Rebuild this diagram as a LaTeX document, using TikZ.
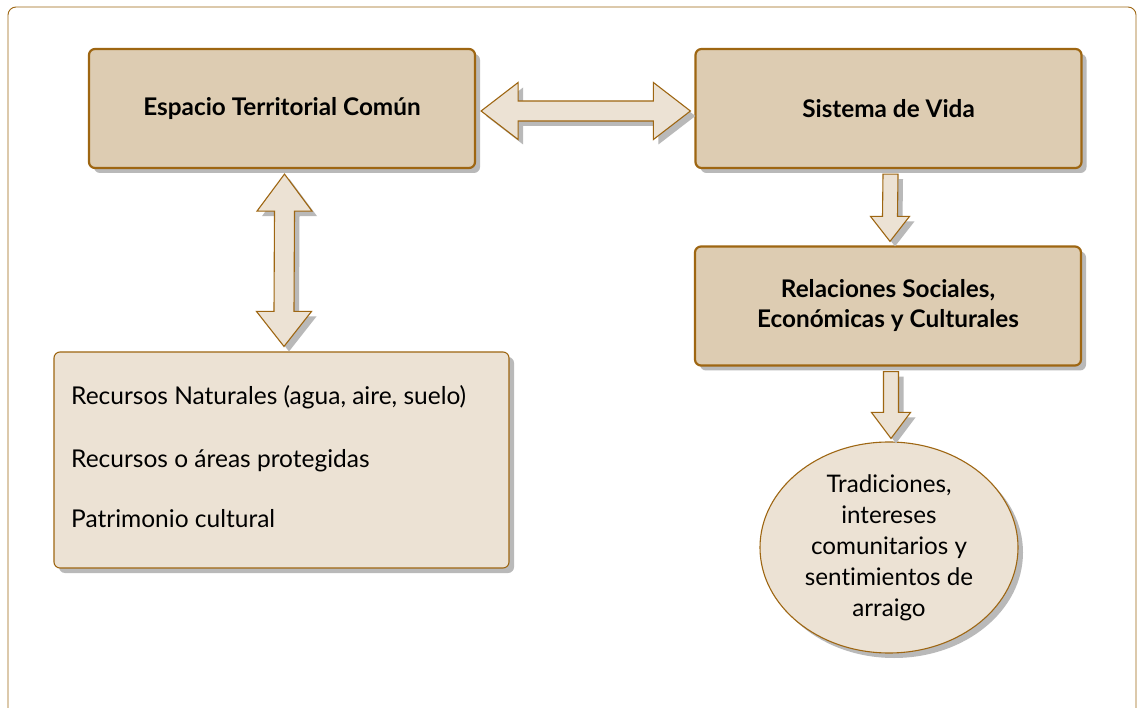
\documentclass[tikz,border=0pt]{standalone}
\usepackage{fontspec}
\setmainfont{Lato}[Ligatures=NoCommon]
\usetikzlibrary{shapes.geometric,shadows,calc}
\definecolor{brd}{RGB}{158,102,18}
\definecolor{tanfill}{RGB}{221,204,178}
\definecolor{lightfill}{RGB}{236,226,212}
\definecolor{shd}{RGB}{185,185,185}
\tikzset{
  shad/.style={drop shadow={shadow xshift=5pt,shadow yshift=-5pt,fill=shd,opacity=1}},
  mainbox/.style={rectangle,rounded corners=6pt,draw=brd,line width=2.2pt,fill=tanfill,
    minimum width=386pt,minimum height=119pt,align=center,shad,
    font=\fontsize{24.3}{30}\selectfont\bfseries},
  listbox/.style={rectangle,rounded corners=6pt,draw=brd,line width=1.1pt,fill=lightfill,
    minimum width=455pt,minimum height=216pt,shad},
  blockarrow/.style={draw=brd,line width=1.1pt,fill=lightfill,line join=miter,shad},
  itemtext/.style={anchor=base west,inner sep=0pt,font=\fontsize{24.5}{31}\selectfont},
  ovalnode/.style={ellipse,draw=brd,line width=1.1pt,fill=lightfill,minimum width=258pt,
    minimum height=211pt,align=center,inner sep=0pt,shad,font=\fontsize{24.2}{31}\selectfont}
}
\begin{document}
\begin{tikzpicture}[x=1pt,y=-1pt]
\useasboundingbox (0,0) rectangle (1138,708);
\fill[white] (0,0) rectangle (1138,708);
\draw[brd,line width=0.9pt,rounded corners=8pt] (8,7) rectangle (1136,740);

\node[mainbox] (etc) at (282,108.5) {Espacio Territorial Común};
\node[mainbox] (sv) at (888.5,108.5) {Sistema de Vida};
\node[mainbox] (rs) at (888,306) {Relaciones Sociales,\\Económicas y Culturales};
\node[listbox] (rec) at (281.5,460) {};
\node[itemtext] (t1) at (71,405) {Recursos Naturales (agua, aire, suelo)};
\node[itemtext] (t2) at (71,467) {Recursos o áreas protegidas};
\node[itemtext] (t3) at (71,527) {Patrimonio cultural};
\node[ovalnode] (tr) at (889,547.5) {Tradiciones,\\intereses\\comunitarios y\\sentimientos de\\arraigo};

% horizontal double arrow etc <-> sv
\path ($(etc.east)+(5,2.5)$) coordinate (h1) ($(sv.west)+(-4,2.5)$) coordinate (h2);
\draw[blockarrow] (h1) -- ++(37,-28.5) -- ++(0,18.5) -- ($(h2)+(-37,-10)$) -- ++(0,-18.5)
  -- (h2) -- ++(-37,28.5) -- ++(0,-18.5) -- ($(h1)+(37,10)$) -- ++(0,18.5) -- cycle;

% vertical double arrow etc <-> rec
\path ($(etc.south)+(2.5,5)$) coordinate (v1) ($(rec.north)+(2.5,-5)$) coordinate (v2);
\draw[blockarrow] (v1) -- ++(27.5,37) -- ++(-17.5,0) -- ($(v2)+(10,-35)$) -- ++(17.5,0)
  -- (v2) -- ++(-27.5,-35) -- ++(17.5,0) -- ($(v1)+(-10,37)$) -- ++(-17.5,0) -- cycle;

% down arrow sv -> rs
\path ($(sv.south)+(2,5)$) coordinate (d1) ($(rs.north)+(2,-4)$) coordinate (d2);
\draw[blockarrow] ($(d1)+(-7.5,0)$) -- ($(d1)+(7.5,0)$) -- ($(d2)+(7.5,-25)$) -- ++(12,0)
  -- (d2) -- ++(-19.5,-25) -- ++(12,0) -- cycle;

% down arrow rs -> tr
\path ($(rs.south)+(3,5)$) coordinate (e1) ($(tr.north)+(2,-3)$) coordinate (e2);
\draw[blockarrow] ($(e1)+(-7.5,0)$) -- ($(e1)+(7.5,0)$) -- ($(e2)+(7.5,-26)$) -- ++(12,0)
  -- (e2) -- ++(-19.5,-26) -- ++(12,0) -- cycle;
\end{tikzpicture}
\end{document}
